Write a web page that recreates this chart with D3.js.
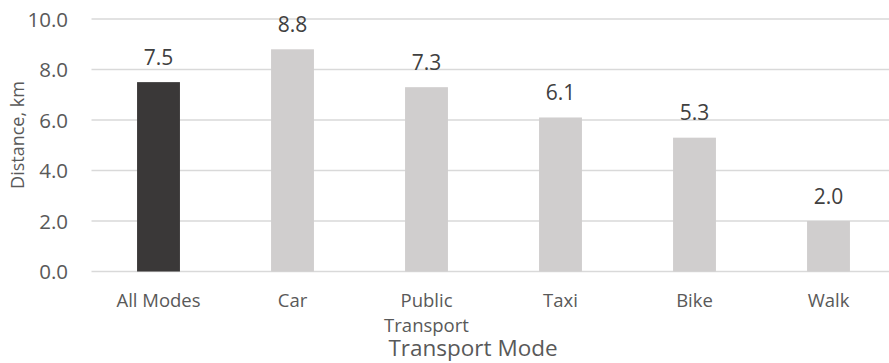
<!DOCTYPE html>
<html>
<head>
<meta charset="utf-8">
<script src="https://cdn.jsdelivr.net/npm/d3@7"></script>
<style>
  html, body { margin: 0; padding: 0; background: #fff; }
  svg { display: block; font-family: "Open Sans", sans-serif; }
</style>
</head>
<body>
<svg id="chart" width="889" height="363"></svg>
<script>
// Average trip distance by transport mode
const categories = ["All Modes", "Car", "Public Transport", "Taxi", "Bike", "Walk"];
const distances = [7.5, 8.8, 7.3, 6.1, 5.3, 2.0];
const yTicks = [0, 2, 4, 6, 8, 10];

const svg = d3.select("#chart");
const plotLeft = 91.5, plotRight = 895.5, plotTop = 19, plotBottom = 271.5;

const x = d3.scaleBand().domain(categories).range([plotLeft, plotRight]).paddingInner(0.68).paddingOuter(0.34);
const y = d3.scaleLinear().domain([0, 10]).range([plotBottom, plotTop]);

// gridlines
svg.append("g").selectAll("line").data(yTicks).join("line")
  .attr("x1", plotLeft).attr("x2", plotRight)
  .attr("y1", d => y(d)).attr("y2", d => y(d))
  .attr("stroke", "#d9d9d9").attr("stroke-width", 1.4);

// y axis labels
const yAxis = d3.axisLeft(y).tickValues(yTicks).tickFormat(d3.format(".1f")).tickSize(0).tickPadding(0);
const gy = svg.append("g").attr("transform", "translate(68,0)").call(yAxis);
gy.select(".domain").remove();
gy.selectAll("text").attr("font-family", "Open Sans, sans-serif").attr("font-size", 20.5)
  .attr("fill", "#595959").attr("dy", "0.36em");

// bars
svg.append("g").selectAll("rect").data(categories).join("rect")
  .attr("x", d => x(d))
  .attr("width", x.bandwidth())
  .attr("y", (d, i) => y(distances[i]))
  .attr("height", (d, i) => y(0) - y(distances[i]))
  .attr("fill", (d, i) => i === 0 ? "#3a3838" : "#d0cece");

// value labels
svg.append("g").selectAll("text").data(categories).join("text")
  .attr("x", d => x(d) + x.bandwidth() / 2)
  .attr("y", (d, i) => y(distances[i]) - 17.5)
  .attr("text-anchor", "middle")
  .attr("font-size", 21)
  .attr("fill", "#404040")
  .text((d, i) => distances[i].toFixed(1));

// x axis category labels (wrapped)
const xAxis = d3.axisBottom(x).tickSize(0).tickPadding(0).tickFormat("");
const gx = svg.append("g").attr("transform", `translate(0,${plotBottom})`).call(xAxis);
gx.select(".domain").remove();
gx.selectAll(".tick").each(function(d) {
  const words = d === "Public Transport" ? ["Public", "Transport"] : [d];
  const t = d3.select(this).append("text")
    .attr("text-anchor", "middle")
    .attr("font-family", "Open Sans, sans-serif")
    .attr("font-size", 18.5)
    .attr("fill", "#595959");
  words.forEach((w, i) => t.append("tspan").attr("x", 0).attr("y", 35 + i * 25).text(w));
});

// axis titles
svg.append("text")
  .attr("x", 473).attr("y", 355.5)
  .attr("text-anchor", "middle")
  .attr("font-size", 22.5)
  .attr("fill", "#595959")
  .text("Transport Mode");

svg.append("text")
  .attr("transform", "translate(24,135) rotate(-90)")
  .attr("text-anchor", "middle")
  .attr("font-size", 18)
  .attr("fill", "#595959")
  .text("Distance, km");
</script>
</body>
</html>
